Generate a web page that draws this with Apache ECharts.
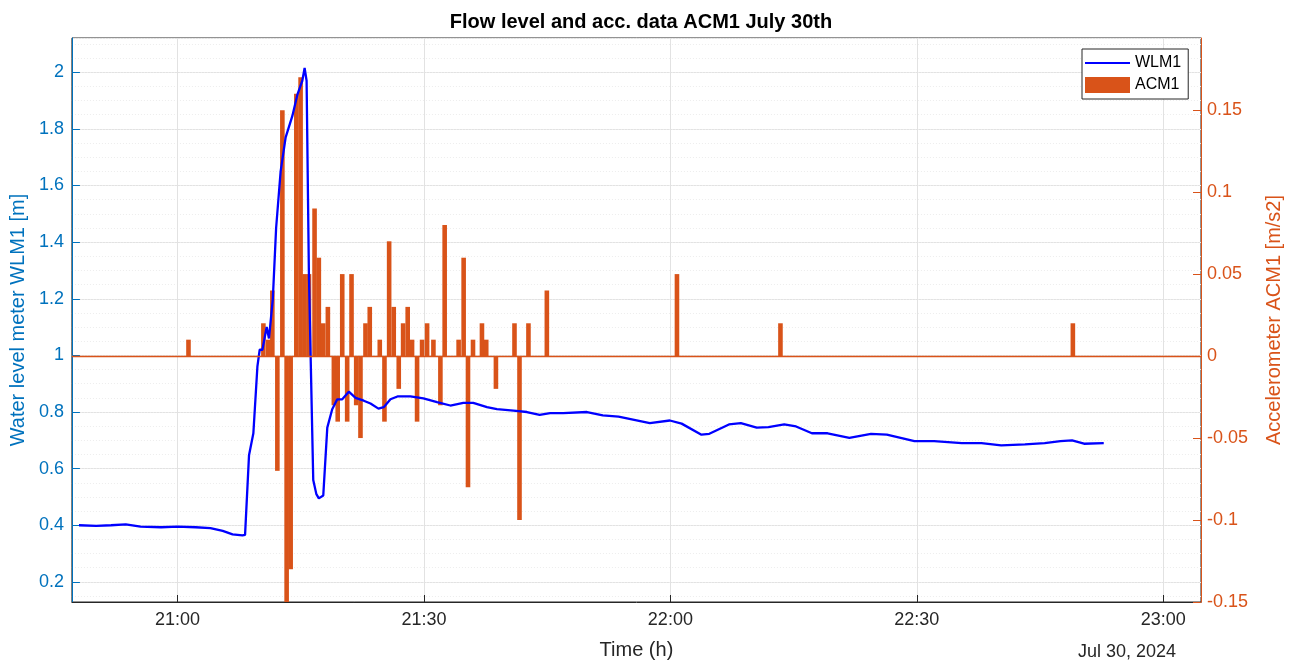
<!DOCTYPE html>
<html><head><meta charset="utf-8">
<script src="https://cdn.jsdelivr.net/npm/echarts@6/dist/echarts.min.js"></script>
<style>html,body{margin:0;padding:0;background:#fff}#c{width:1293px;height:665px}</style>
</head><body><div id="c"></div>
<script>
// Time values are minutes after 21:00 on Jul 30, 2024
const xTickLabels = ['21:00', '21:30', '22:00', '22:30', '23:00'];
const wlmMinutes = [-12.0, -9.9, -8.1, -6.3, -4.5, -2.0, 0.0, 2.2, 4.0, 5.5,
  6.7, 7.9, 8.22, 8.7, 9.23, 9.72, 10.0, 10.33, 10.85, 11.13,
  11.6, 12.0, 12.55, 13.16, 13.97, 14.58, 15.19, 15.47, 15.71, 15.99,
  16.2, 16.52, 16.9, 17.2, 17.74, 18.23, 18.83, 19.44, 20.05, 20.85,
  21.67, 22.67, 23.49, 24.46, 25.1, 25.92, 26.77, 28.35, 29.93, 31.59,
  33.21, 34.79, 36.0, 37.67, 38.88, 40.9, 42.53, 44.08, 45.36, 46.94,
  49.85, 51.77, 53.69, 57.5, 59.93, 61.37, 63.78, 64.74, 67.13, 68.58,
  70.51, 71.94, 73.86, 75.3, 77.23, 79.14, 81.79, 84.42, 86.35, 89.71,
  92.11, 95.48, 97.87, 100.28, 103.16, 105.57, 107.49, 108.9, 110.36, 112.76];
const wlmValues = [0.40, 0.398, 0.40, 0.403, 0.395, 0.393, 0.395, 0.393, 0.39, 0.38,
  0.368, 0.364, 0.366, 0.647, 0.725, 0.96, 1.02, 1.02, 1.10, 1.06,
  1.2, 1.45, 1.65, 1.77, 1.845, 1.92, 1.97, 2.015, 1.97, 1.29,
  1.0, 0.56, 0.51, 0.495, 0.505, 0.745, 0.81, 0.845, 0.845, 0.872,
  0.85, 0.84, 0.83, 0.812, 0.817, 0.845, 0.855, 0.855, 0.848, 0.835,
  0.823, 0.832, 0.832, 0.817, 0.81, 0.805, 0.80, 0.79, 0.796, 0.796,
  0.80, 0.788, 0.784, 0.761, 0.77, 0.759, 0.72, 0.723, 0.756, 0.761,
  0.745, 0.747, 0.756, 0.749, 0.725, 0.725, 0.709, 0.723, 0.72, 0.697,
  0.697, 0.69, 0.69, 0.682, 0.686, 0.69, 0.697, 0.70, 0.688, 0.69];
const acmMinutes = [1.33, 10.45, 11.05, 11.54, 12.15, 12.76, 13.28, 13.77, 14.46, 14.98,
  15.47, 16.0, 16.68, 17.2, 17.74, 18.3, 19.03, 19.5, 20.05, 20.65,
  21.18, 21.75, 22.27, 22.88, 23.4, 24.62, 25.19, 25.76, 26.32, 26.93,
  27.46, 28.02, 28.55, 29.16, 29.77, 30.38, 31.15, 32.0, 32.52, 34.22,
  34.83, 35.36, 35.97, 37.06, 37.58, 38.76, 41.02, 41.63, 42.72, 44.96,
  60.8, 73.4, 109.0];
const acmValues = [0.01, 0.02, 0.01, 0.04, -0.07, 0.15, -0.15, -0.13, 0.16, 0.17,
  0.05, 0.05, 0.09, 0.06, 0.02, 0.03, -0.03, -0.04, 0.05, -0.04,
  0.05, -0.03, -0.05, 0.02, 0.03, 0.01, -0.04, 0.07, 0.03, -0.02,
  0.02, 0.03, 0.01, -0.04, 0.01, 0.02, 0.01, -0.03, 0.08, 0.01,
  0.06, -0.08, 0.01, 0.02, 0.01, -0.02, 0.02, -0.1, 0.02, 0.04,
  0.05, 0.02, 0.02];

const FONT = 'Liberation Sans, Arial, Helvetica, sans-serif';
const BLUE_AX = '#0072BD', ORANGE = '#D95319', DARK = '#262626';

const chart = echarts.init(document.getElementById('c'), null, {renderer: 'canvas'});
const wlmData = wlmMinutes.map((m, i) => [m, wlmValues[i]]);
const acmData = acmMinutes.map((m, i) => [m, acmValues[i]]);
// thin line legend icon (tiny corner dots keep the icon box 45x16)
const lineIcon = 'path://M0,0L0.01,0L0.01,0.01Z M45,16L44.99,16L44.99,15.99Z M0,6.9L45,6.9L45,9.1L0,9.1Z';

chart.setOption({
  animation: false,
  textStyle: {fontFamily: FONT},
  title: {
    text: 'Flow level and acc. data ACM1 July 30th',
    left: 636, top: 7, textAlign: 'center',
    textStyle: {fontSize: 20, fontWeight: 'bold', color: '#000', fontFamily: FONT}
  },
  grid: {left: 71, right: 92, top: 38, bottom: 62, show: true, borderColor: DARK, borderWidth: 1, backgroundColor: '#fff'},
  legend: {
    data: [{name: 'WLM1', icon: lineIcon}, {name: 'ACM1', icon: 'rect'}],
    orient: 'vertical', left: 1082, top: 49,
    padding: [6, 7, 6, 3], itemGap: 6, itemWidth: 45, itemHeight: 16,
    backgroundColor: '#fff', borderColor: DARK, borderWidth: 1,
    textStyle: {fontSize: 16, color: '#000', fontFamily: FONT}
  },
  xAxis: {
    type: 'value', min: -12.86, max: 124.6, minInterval: 30, maxInterval: 30, splitNumber: 5,
    axisLine: {show: true, onZero: false, lineStyle: {color: DARK, width: 1}},
    axisTick: {show: true, inside: true, length: 7, lineStyle: {color: DARK}},
    axisLabel: {
      showMinLabel: false, showMaxLabel: false, color: DARK, fontSize: 18, margin: 9, fontFamily: FONT,
      formatter: v => { const i = Math.round(v / 30); return (Math.abs(v - i * 30) < 1e-6 && xTickLabels[i]) ? xTickLabels[i] : ''; }
    },
    splitLine: {show: true, lineStyle: {color: '#E2E2E2', width: 1}},
    name: 'Time (h)', nameLocation: 'middle', nameGap: 38,
    nameTextStyle: {fontSize: 20, color: DARK, fontFamily: FONT}
  },
  yAxis: [
    {
      type: 'value', position: 'left', min: 0.129, max: 2.121, minInterval: 0.2, maxInterval: 0.2, splitNumber: 5,
      axisLine: {show: true, onZero: false, lineStyle: {color: BLUE_AX, width: 1}},
      axisTick: {show: true, inside: true, length: 8, lineStyle: {color: BLUE_AX}},
      axisLabel: {showMinLabel: false, showMaxLabel: false, color: BLUE_AX, fontSize: 18, margin: 8, fontFamily: FONT},
      splitLine: {show: true, lineStyle: {color: '#E2E2E2', width: 1}},
      name: 'Water level meter WLM1 [m]', nameLocation: 'middle', nameRotate: 90, nameGap: 40,
      nameTextStyle: {fontSize: 20, color: BLUE_AX, fontFamily: FONT}
    },
    {
      type: 'value', position: 'right', min: -0.15, max: 0.194, interval: 0.05,
      axisLine: {show: true, onZero: false, lineStyle: {color: ORANGE, width: 1}},
      axisTick: {show: true, inside: true, length: 8, lineStyle: {color: ORANGE}},
      axisLabel: {showMaxLabel: false, color: ORANGE, fontSize: 18, margin: 6, fontFamily: FONT},
      splitLine: {show: false},
      name: 'Accelerometer ACM1 [m/s2]', nameLocation: 'middle', nameRotate: 90, nameGap: 63,
      nameTextStyle: {fontSize: 20, color: ORANGE, fontFamily: FONT}
    },
    {
      type: 'value', position: 'left', min: 0.129, max: 2.121, minInterval: 0.05, maxInterval: 0.05, splitNumber: 40,
      axisLine: {show: false, onZero: false}, axisTick: {show: false}, axisLabel: {show: false},
      splitLine: {show: true, lineStyle: {color: '#EDEDED', width: 1, type: [1, 2]}}
    }
  ],
  graphic: [{
    type: 'text', x: 1127, y: 652,
    style: {text: 'Jul 30, 2024', fill: DARK, font: '18px ' + FONT, align: 'center', verticalAlign: 'middle'}
  }],
  series: [
    {
      name: 'ACM1', type: 'bar', xAxisIndex: 0, yAxisIndex: 1, data: acmData, barWidth: 4.6,
      itemStyle: {color: ORANGE}, z: 2,
      markLine: {
        silent: true, symbol: 'none', label: {show: false},
        lineStyle: {color: ORANGE, width: 1.3, type: 'solid'},
        data: [{yAxis: 0}]
      }
    },
    {
      name: 'WLM1', type: 'line', xAxisIndex: 0, yAxisIndex: 0, data: wlmData,
      symbol: 'none', lineStyle: {color: '#0000FF', width: 2.3}, itemStyle: {color: '#0000FF'}, z: 3
    }
  ]
});
</script>
</body></html>
